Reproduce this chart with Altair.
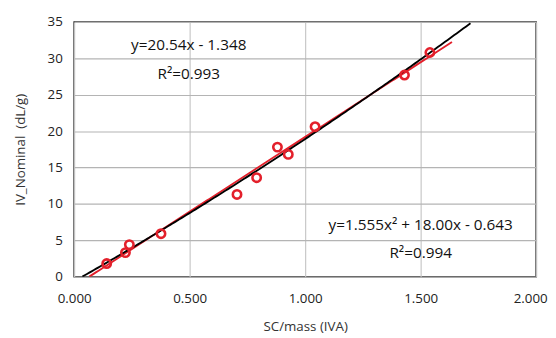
import altair as alt
import pandas as pd

# Measured data points
sc_mass = [0.141, 0.222, 0.239, 0.376, 0.705, 0.790, 0.880, 0.927, 1.043, 1.430, 1.540]
iv_nominal = [1.8, 3.3, 4.4, 5.9, 11.3, 13.6, 17.8, 16.8, 20.6, 27.7, 30.8]

# Trendline coefficients (from the chart's equations)
lin_coef = [20.54, -1.348]          # slope, intercept
quad_coef = [1.555, 18.00, -0.643]  # a, b, c
lin_range = [0.0656, 1.64]
quad_range = [0.0357, 1.724]

# Annotation texts
labels = ["y=20.54x - 1.348", "R²=0.993", "y=1.555x² + 18.00x - 0.643", "R²=0.994"]
label_x = [0.496, 0.496, 1.50, 1.50]
label_y = [31.8, 27.9, 7.06, 3.2]

RED = "#e3202b"
FONT = "Open Sans"

df = pd.DataFrame({"x": sc_mass, "y": iv_nominal})
lab = pd.DataFrame({"x": label_x, "y": label_y, "t": labels})

xs = alt.Scale(domain=[0, 2], nice=False, zero=False)
ys = alt.Scale(domain=[0, 35], nice=False)

xax = alt.Axis(values=[0, 0.5, 1, 1.5, 2], format=".3f", title="SC/mass (IVA)",
               grid=True, gridColor="#c8c8c8", gridWidth=1.2, ticks=False,
               domain=False, labelFontSize=13.5, titleFontSize=13.5, labelPadding=15,
               titlePadding=15, labelColor="#222", titleColor="#333",
               labelFont=FONT, titleFont=FONT, titleFontWeight="normal",
               labelOverlap=False, labelFlush=False,
               labelOffset={"condition": {"test": "datum.value == 2", "value": -6}, "value": 0})
yax = alt.Axis(values=list(range(0, 36, 5)), title="IV_Nominal\u00a0 (dL/g)",
               grid=True, gridColor="#b4b4b4", gridWidth=1.2, ticks=False,
               domain=False, labelFontSize=13.5, titleFontSize=13.5, labelPadding=12,
               titlePadding=20, labelColor="#222", titleColor="#333",
               labelFont=FONT, titleFont=FONT, titleFontWeight="normal",
               labelOverlap=False, labelFlush=False)

X = alt.X("x:Q", scale=xs, axis=xax)
Y = alt.Y("y:Q", scale=ys, axis=yax)

lin = alt.Chart(alt.sequence(lin_range[0], lin_range[1] + 0.001, 0.01, as_="x")).transform_calculate(
    y=f"{lin_coef[0]}*datum.x + ({lin_coef[1]})"
).mark_line(color=RED, strokeWidth=1.9, clip=True).encode(x=X, y=Y)

quad = alt.Chart(alt.sequence(quad_range[0], quad_range[1] + 0.001, 0.01, as_="x")).transform_calculate(
    y=f"{quad_coef[0]}*datum.x*datum.x + {quad_coef[1]}*datum.x + ({quad_coef[2]})"
).mark_line(color="black", strokeWidth=1.9, clip=True).encode(x=X, y=Y)

pts = alt.Chart(df).mark_point(shape="circle", filled=False, color=RED, strokeWidth=2.6, size=72, opacity=1).encode(x=X, y=Y)

txt = alt.Chart(lab).mark_text(fontSize=15.5, font=FONT, color="#111", align="center", baseline="middle").encode(
    x=X, y=Y, text="t:N")

chart = alt.layer(lin, quad, pts, txt).properties(
    width=468, height=258,
    padding={"left": 5, "top": 5, "right": 0, "bottom": 0}
).configure_view(stroke="#222", strokeWidth=1.5)

chart.save("out.html", embed_options={"renderer": "svg", "actions": False})
